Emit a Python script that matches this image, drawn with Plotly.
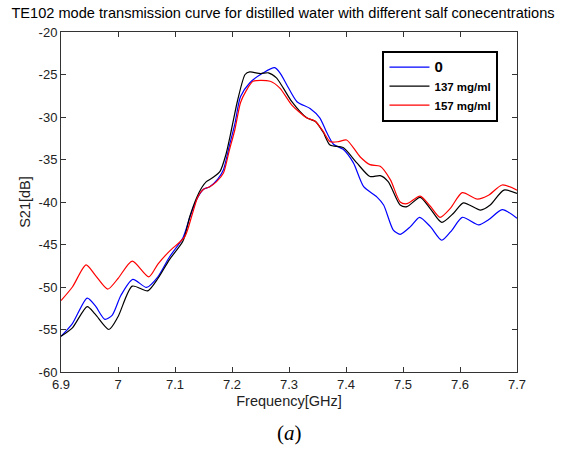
import plotly.graph_objects as go

# Series: S21 [dB] vs frequency [GHz]
f_0 = [6.90, 6.92, 6.946, 6.96, 6.977, 6.99, 7.005, 7.026, 7.05, 7.07, 7.09, 7.114, 7.126, 7.138,
       7.15, 7.161, 7.175, 7.185, 7.195, 7.205, 7.215, 7.231, 7.255, 7.275, 7.285, 7.296, 7.314,
       7.337, 7.354, 7.366, 7.378, 7.395, 7.413, 7.431, 7.454, 7.466, 7.483, 7.495, 7.513, 7.529,
       7.548, 7.568, 7.586, 7.604, 7.633, 7.650, 7.674, 7.70]
s_0 = [-55.8, -54.3, -51.3, -52.2, -53.8, -53.3, -51.0, -49.1, -50.05, -48.8, -46.5, -44.2, -41.8, -39.7,
       -38.5, -38.2, -37.3, -36.2, -33.5, -30.8, -27.6, -26.0, -24.8, -24.2, -24.9, -26.2, -28.2,
       -29.0, -30.1, -31.8, -33.2, -33.8, -35.4, -38.2, -39.4, -40.35, -43.3, -43.8, -42.9, -41.8,
       -42.9, -44.5, -43.3, -41.8, -42.7, -42.1, -40.9, -41.9]

f_137 = [6.90, 6.92, 6.946, 6.96, 6.984, 7.00, 7.025, 7.052, 7.07, 7.09, 7.114, 7.126, 7.138, 7.147,
         7.155, 7.167, 7.179, 7.189, 7.199, 7.21, 7.223, 7.231, 7.25, 7.264, 7.278, 7.29, 7.305,
         7.331, 7.346, 7.36, 7.372, 7.395, 7.419, 7.442, 7.46, 7.474, 7.495, 7.507, 7.53, 7.548,
         7.568, 7.589, 7.606, 7.636, 7.653, 7.677, 7.70]
s_137 = [-55.8, -54.8, -52.3, -53.2, -55.0, -53.5, -49.9, -50.45, -49.0, -46.8, -44.6, -41.7, -39.5, -38.3,
         -37.6, -37.1, -36.4, -34.5, -31.5, -28.0, -25.0, -24.7, -24.9, -24.8, -25.4, -26.6, -28.2,
         -30.1, -30.5, -31.8, -33.3, -33.6, -35.4, -37.0, -36.9, -37.6, -40.35, -40.55, -39.45, -40.8,
         -42.4, -41.3, -40.1, -40.95, -40.35, -38.6, -39.0]

f_157 = [6.90, 6.92, 6.944, 6.96, 6.982, 7.00, 7.025, 7.054, 7.07, 7.09, 7.117, 7.13, 7.14, 7.15,
         7.161, 7.173, 7.185, 7.195, 7.205, 7.215, 7.225, 7.237, 7.267, 7.284, 7.305, 7.331, 7.346,
         7.36, 7.372, 7.387, 7.401, 7.425, 7.442, 7.46, 7.478, 7.495, 7.507, 7.53, 7.548, 7.565,
         7.583, 7.604, 7.630, 7.650, 7.674, 7.70]
s_157 = [-51.6, -50.0, -47.4, -48.6, -50.25, -49.0, -46.95, -48.8, -47.3, -45.8, -44.1, -41.5, -39.4, -38.5,
         -38.2, -37.6, -36.6, -34.0, -31.5, -28.3, -26.9, -25.8, -25.8, -26.6, -28.6, -30.1, -30.5,
         -31.7, -32.9, -32.9, -32.7, -34.7, -35.6, -35.8, -37.4, -40.0, -40.2, -39.3, -40.5, -41.8,
         -40.75, -38.9, -39.65, -39.2, -38.0, -38.6]

names = ["<span style='font-size:15px'>0</span>", "137 mg/ml", "157 mg/ml"]
colors = ["#0000ff", "#000000", "#ff0000"]

x_ticks = [6.9, 7.0, 7.1, 7.2, 7.3, 7.4, 7.5, 7.6, 7.7]
x_labels = ["6.9", "7", "7.1", "7.2", "7.3", "7.4", "7.5", "7.6", "7.7"]
y_ticks = [-60, -55, -50, -45, -40, -35, -30, -25, -20]
y_labels = ["-60", "-55", "-50", "-45", "-40", "-35", "-30", "-25", "-20"]

fig = go.Figure()
for fx, sy, nm, c in zip([f_0, f_137, f_157], [s_0, s_137, s_157], names, colors):
    fig.add_trace(go.Scatter(x=fx, y=sy, mode="lines", name=nm,
                             line=dict(color=c, width=1.2, shape="spline", smoothing=0.7)))

font_main = "Liberation Sans, Arial, sans-serif"
fig.update_layout(
    width=566, height=453,
    margin=dict(l=61, r=49, t=32, b=81),
    paper_bgcolor="white", plot_bgcolor="white",
    font=dict(family=font_main, size=13, color="#222"),
    title=dict(text="TE102 mode transmission curve for distilled water with different salf conecentrations",
               x=0.5, xanchor="center", y=0.972, yanchor="middle",
               font=dict(size=14.6, family=font_main, color="#000")),
    showlegend=True,
    legend=dict(x=0.705, y=0.945, xanchor="left", yanchor="top",
                bordercolor="#000", borderwidth=2, bgcolor="white",
                font=dict(size=11.5, family=font_main, color="#000", weight="bold"),
                itemwidth=40, tracegroupgap=4),
    xaxis=dict(range=[6.9, 7.7], tickvals=x_ticks, ticktext=x_labels,
               showgrid=False, zeroline=False, showline=True, linecolor="#333", linewidth=1,
               mirror="ticks", ticks="inside", ticklen=5, tickcolor="#333",
               tickfont=dict(size=13),
               title=dict(text="Frequency[GHz]", standoff=5, font=dict(size=14.5))),
    yaxis=dict(range=[-60, -20], tickvals=y_ticks, ticktext=y_labels,
               showgrid=False, zeroline=False, showline=True, linecolor="#333", linewidth=1,
               mirror="ticks", ticks="inside", ticklen=5, tickcolor="#333",
               tickfont=dict(size=13),
               title=dict(text="S21[dB]", standoff=4, font=dict(size=14.5))),
)

fig.add_annotation(text="(<i>a</i>)", xref="paper", yref="paper", x=0.5, y=-0.18,
                   xanchor="center", yanchor="middle", showarrow=False,
                   font=dict(family="Liberation Serif, Times New Roman, serif", size=21, color="#000"))

fig.write_html("out.html")
